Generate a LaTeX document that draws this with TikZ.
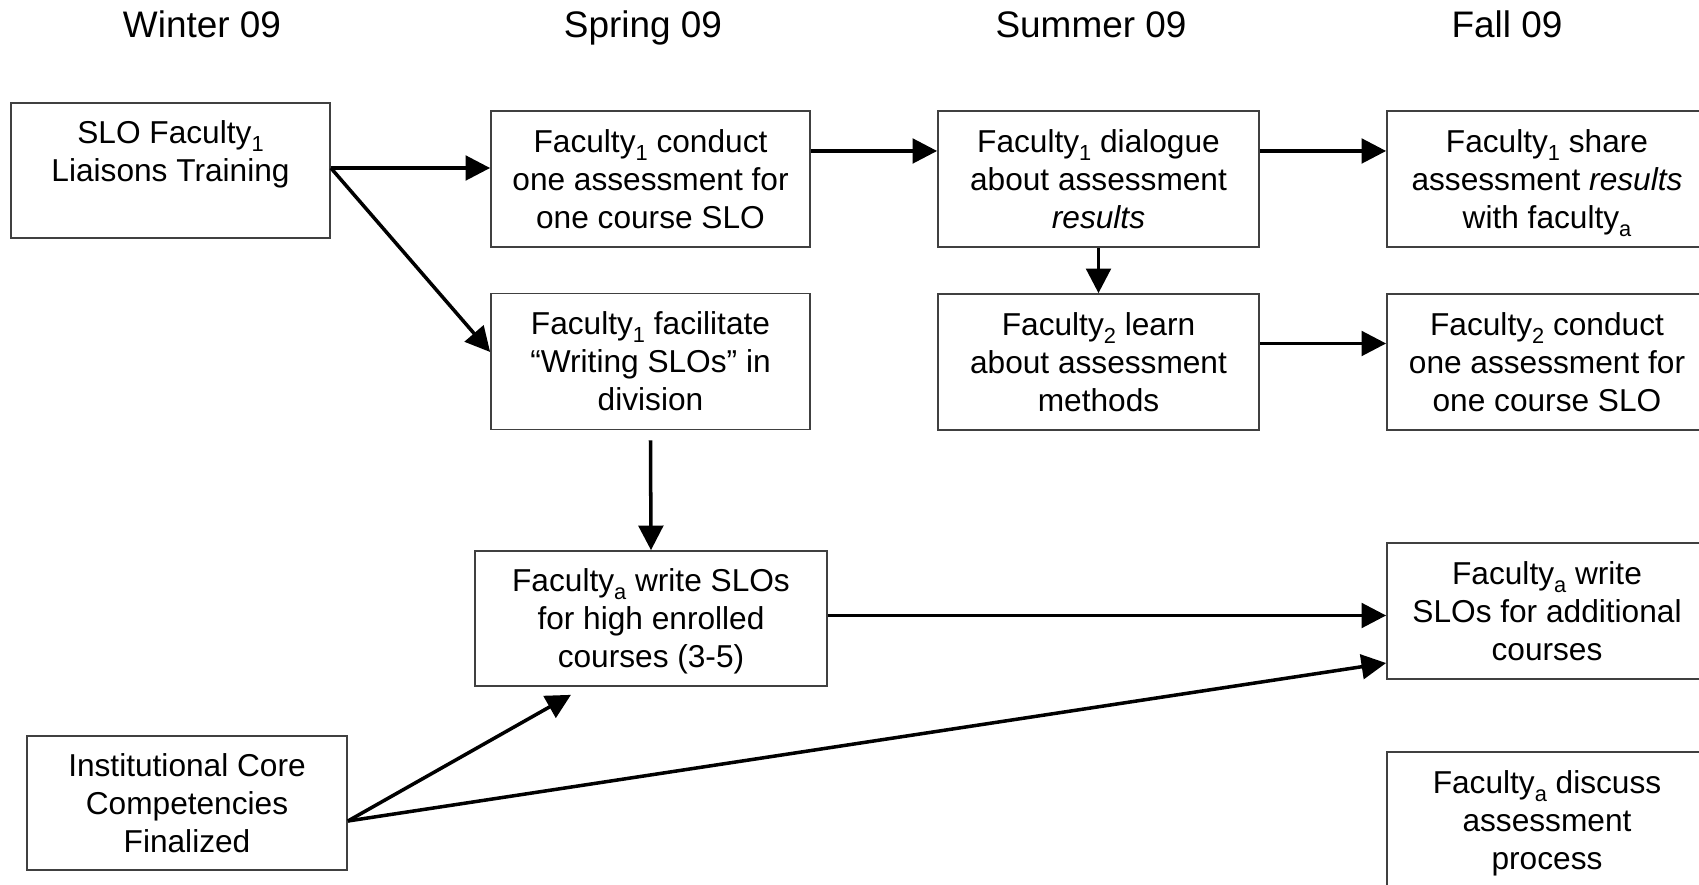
\documentclass[tikz,border=0pt]{standalone}
\usepackage{fontspec}
\setmainfont{Liberation Sans}
\usetikzlibrary{arrows.meta}
\newcommand\mysub[1]{\raisebox{-2.3pt}{\fontsize{6.2}{6.2}\selectfont #1}}
\newcommand\tstr{\rule{0pt}{9.6pt}}
\begin{document}
\begin{tikzpicture}[x=0.01cm,y=-0.01cm,
  box/.style={draw=black!75, line width=0.45pt, minimum width=3.2cm, minimum height=1.36cm,
    inner sep=0pt, align=center, font=\fontsize{9}{10.8}\selectfont},
  arr/.style={line width=1pt, -{Triangle[length=7pt,width=7pt]}},
  hdr/.style={font=\fontsize{10.5}{12.6}\selectfont, anchor=base, inner sep=0pt}]
\useasboundingbox (0,0) rectangle (1699,885);
\clip (0,0) rectangle (1699,885);

% headers
\node[hdr] (hw) at (202,38) {Winter 09};
\node[hdr] (hs) at (643,38) {Spring 09};
\node[hdr] (hu) at (1091,38) {Summer 09};
\node[hdr] (hf) at (1507,38) {Fall 09};

% boxes
\node[box, minimum width=3.19cm, minimum height=1.35cm] (slo) at (170.5,170.5)
  {\tstr SLO Faculty\mysub{1}\\Liaisons Training\\\strut};
\node[box, minimum width=3.19cm] (conduct) at (650.5,179)
  {\tstr Faculty\mysub{1} conduct\\one assessment for\\one course SLO\strut};
\node[box, minimum width=3.21cm] (dialogue) at (1098.5,179)
  {\tstr Faculty\mysub{1} dialogue\\about assessment\\\textit{results}\strut};
\node[box] (share) at (1547,179)
  {\tstr Faculty\mysub{1} share\\assessment \textit{results}\\with faculty\mysub{a}\strut};
\node[box, minimum width=3.19cm] (facil) at (650.5,361.5)
  {\tstr Faculty\mysub{1} facilitate\\“Writing SLOs” in\\division\strut};
\node[box, minimum width=3.21cm] (learn) at (1098.5,362)
  {\tstr Faculty\mysub{2} learn\\about assessment\\methods\strut};
\node[box] (ftwo) at (1547,362)
  {\tstr Faculty\mysub{2} conduct\\one assessment for\\one course SLO\strut};
\node[box, minimum width=3.52cm, minimum height=1.35cm] (write) at (651,618.5)
  {\tstr Faculty\mysub{a} write SLOs\\for high enrolled\\courses (3-5)\strut};
\node[box] (addl) at (1547,611)
  {\tstr Faculty\mysub{a} write\\SLOs for additional\\courses\strut};
\node[box] (disc) at (1547,820)
  {\tstr Faculty\mysub{a} discuss\\assessment\\process\strut};
\node[box, minimum height=1.34cm] (inst) at (187,803)
  {\tstr Institutional Core\\Competencies\\Finalized\strut};

% connector end points
\coordinate (s) at ([yshift=0.025cm]slo.east);
\coordinate (fin) at ([yshift=0.095cm]facil.west);
\coordinate (i) at ([yshift=-0.18cm]inst.east);
\coordinate (wb) at ([xshift=-0.8cm,yshift=-0.08cm]write.south);
\coordinate (ai) at ([yshift=-0.52cm]addl.west);
\coordinate (fs) at ([yshift=-0.1cm]facil.south);

% connectors
\draw[arr] (s) -- (s -| conduct.west);
\draw[arr] (s) -- (fin);
\draw[arr] ([yshift=0.28cm]conduct.east) -- ([yshift=0.28cm]dialogue.west);
\draw[arr] ([yshift=0.28cm]dialogue.east) -- ([yshift=0.28cm]share.west);
\draw[arr] (dialogue.south) -- (learn.north);
\draw[arr] ([yshift=0.185cm]learn.east) -- ([yshift=0.185cm]learn.east -| ftwo.west);
\draw[arr] (fs) -- (write.north);
\draw[arr] ([yshift=0.03cm]write.east) -- ([yshift=0.03cm]write.east -| addl.west);
\draw[arr] (i) -- (wb);
\draw[arr] (i) -- (ai);
\end{tikzpicture}
\end{document}
